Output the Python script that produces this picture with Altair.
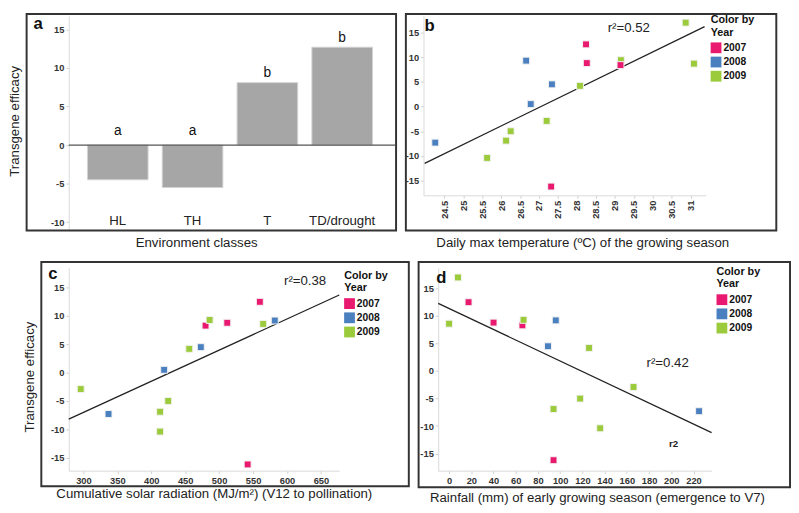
import altair as alt
import pandas as pd

FONT = "Liberation Sans"

# ---------------- data ----------------
env_classes = ["HL", "TH", "T", "TD/drought"]
env_efficacy = [-4.5, -5.5, 8.1, 12.7]
env_letters = ["a", "a", "b", "b"]

years = ["2007", "2008", "2009"]
year_colors = ["#E8196E", "#4A80BF", "#9BCB3B"]

# panel b: daily max temperature
temp_x = [24.26, 25.63, 26.13, 26.25, 26.66, 26.78, 27.20, 27.34, 27.32, 28.08, 28.24, 28.26, 29.16, 29.15, 30.87, 31.09]
temp_y = [-7.3, -10.4, -6.9, -5.0, 9.3, 0.5, -2.9, 4.5, -16.2, 4.2, 12.6, 8.8, 9.4, 8.4, 17.0, 8.7]
temp_year = ["2008", "2009", "2009", "2009", "2008", "2008", "2009", "2008", "2007", "2009", "2007", "2007", "2009", "2007", "2009", "2009"]

# panel c: cumulative solar radiation
rad_x = [296, 337, 413, 413, 425, 419, 456, 473, 480, 486, 512, 560, 565, 582, 542]
rad_y = [-2.9, -7.3, -6.9, -10.4, -5.0, 0.5, 4.2, 4.5, 8.3, 9.3, 8.8, 12.5, 8.6, 9.2, -16.2]
rad_year = ["2009", "2008", "2009", "2009", "2009", "2008", "2009", "2008", "2007", "2009", "2007", "2007", "2009", "2008", "2007"]

# panel d: rainfall
rain_x = [8, 17.5, 0, 40, 66, 67, 96, 89, 126, 166, 118, 94, 136, 225, 94]
rain_y = [17.0, 12.5, 8.6, 8.8, 8.3, 9.3, 9.2, 4.5, 4.2, -2.9, -5.0, -6.9, -10.4, -7.3, -16.2]
rain_year = ["2009", "2007", "2009", "2007", "2007", "2009", "2008", "2008", "2009", "2009", "2009", "2009", "2009", "2008", "2007"]

# fitted regression lines (end points)
fit_temp_x = [23.98, 31.37]
fit_temp_y = [-11.5, 16.2]
fit_rad_x = [278.4, 677.0]
fit_rad_y = [-8.2, 13.7]
fit_rain_x = [-9.8, 236.3]
fit_rain_y = [12.3, -11.2]

r2_text = ["r\u00b2=0.52", "r\u00b2=0.38", "r\u00b2=0.42"]

# ---------------- layout constants ----------------
W_A, W_B, W_C, W_D = 329, 288, 276, 279
H_A, H_B, H_C, H_D = 218, 183, 207, 207

one = pd.DataFrame({"k": [0]})
color_scale = alt.Scale(domain=years, range=year_colors)
YVALS = [-15, -10, -5, 0, 5, 10, 15]


def box(left, right, top, bottom):
    return alt.Chart(one).mark_rect(fillOpacity=0, stroke="#333333", strokeWidth=2).encode(
        x=alt.value(left), x2=alt.value(right), y=alt.value(top), y2=alt.value(bottom)
    )


def panel_letter(t, px, py):
    return alt.Chart(one).mark_text(
        text=t, fontSize=17, fontWeight="bold", align="left", baseline="alphabetic",
        color="#111111", font=FONT
    ).encode(x=alt.value(px), y=alt.value(py))


# ---------------- panel a ----------------
df_env = pd.DataFrame({"cls": env_classes, "val": env_efficacy, "letter": env_letters})
xa = alt.X("cls:N", sort=env_classes,
           scale=alt.Scale(paddingInner=0.19, paddingOuter=0.25),
           axis=alt.Axis(labels=False, ticks=False, domain=False, title="Environment classes",
                         titleX=130, titleY=17.5, titleBaseline="alphabetic"))
ya_scale = alt.Scale(domain=[-10.96, 16.75], nice=False, zero=False)
ya_axis = alt.Axis(values=[-10, -5, 0, 5, 10, 15], title="Transgene efficacy",
                   titleX=-48, titleY=107, titleBaseline="bottom")

bars = alt.Chart(df_env).mark_bar(color="#A6A6A6", stroke="#D2D2D2", strokeWidth=1).encode(
    x=xa, y=alt.Y("val:Q", scale=ya_scale, axis=ya_axis), y2=alt.datum(0)
)
zero_rule = alt.Chart(one).mark_rule(color="#555555", strokeWidth=1.2).encode(
    x=alt.value(0), x2=alt.value(W_A + 4), y=alt.datum(0)
)
sig_letters = alt.Chart(df_env).transform_calculate(
    ly="datum.val > 0 ? datum.val + 0.7 : 1.35"
).mark_text(fontSize=14, baseline="alphabetic", color="#111111", font=FONT).encode(
    x=xa, y=alt.Y("ly:Q", scale=ya_scale, axis=ya_axis), text="letter:N"
)
cat_labels = alt.Chart(df_env).mark_text(fontSize=13.5, baseline="alphabetic", color="#222222", font=FONT).encode(
    x=xa, y=alt.datum(-10.3), text="cls:N"
)
panel_a = alt.layer(
    box(-43, W_A + 5, -2, H_A + 1), bars, zero_rule, sig_letters, cat_labels, panel_letter("a", -36, 13)
).properties(width=W_A, height=H_A)


# ---------------- scatter panels ----------------
def scatter(xs, ys, yrs, fx, fy, xdom, ydom, xvals, xfmt, xangle, xtitle, title_x, title_y,
            W, H, letter, lx, ly, bx, legend_y, r2, r2x, r2y, ytitle=None, ytx=0, yty=0, extra=None):
    df = pd.DataFrame({"x": xs, "y": ys, "year": yrs})
    fit = pd.DataFrame({"x": fx, "y": fy})
    xscale = alt.Scale(domain=xdom, nice=False, zero=False)
    yscale = alt.Scale(domain=ydom, nice=False, zero=False)
    xaxis_kw = dict(values=xvals, format=xfmt, title=xtitle, titleX=title_x, titleY=title_y,
                    titleBaseline="alphabetic")
    if xangle:
        xaxis_kw["labelAngle"] = xangle
    xaxis = alt.Axis(**xaxis_kw)
    if ytitle:
        yaxis = alt.Axis(values=YVALS, title=ytitle, titleX=ytx, titleY=yty, titleBaseline="bottom")
    else:
        yaxis = alt.Axis(values=YVALS, title=None)
    X = alt.X("x:Q", scale=xscale, axis=xaxis)
    Y = alt.Y("y:Q", scale=yscale, axis=yaxis)
    line = alt.Chart(fit).mark_line(color="#222222", strokeWidth=1.3).encode(x=X, y=Y)
    pts = alt.Chart(df).mark_square(size=50, opacity=1, stroke="#F2F2F2", strokeWidth=1).encode(
        x=X, y=Y,
        color=alt.Color("year:N", scale=color_scale,
                        legend=alt.Legend(orient="none", legendX=W + 5, legendY=legend_y,
                                          title=["Color by", "Year"]))
    )
    r2df = pd.DataFrame({"x": [r2x], "y": [r2y], "t": [r2]})
    r2t = alt.Chart(r2df).mark_text(fontSize=13.5, color="#222222", font=FONT).encode(x=X, y=Y, text="t:N")
    layers = [box(*bx), line, pts, r2t]
    if extra is not None:
        edf = pd.DataFrame({"x": [extra[0]], "y": [extra[1]], "t": [extra[2]]})
        layers.append(alt.Chart(edf).mark_text(fontSize=10, fontWeight="bold", color="#222222", font=FONT)
                      .encode(x=X, y=Y, text="t:N"))
    layers.append(panel_letter(letter, lx, ly))
    return alt.layer(*layers).properties(width=W, height=H)


panel_b = scatter(
    temp_x, temp_y, temp_year, fit_temp_x, fit_temp_y,
    [23.95, 31.4], [-17.97, 18.35],
    [24.5, 25, 25.5, 26, 26.5, 27, 27.5, 28, 28.5, 29, 29.5, 30, 30.5, 31], ".1~f", 270,
    "Daily max temperature (\u00baC) of the growing season", 162, 52.5,
    W_B, H_B, "b", 1, 15, (-18, W_B + 72, -2, H_B + 36), -2, r2_text[0], 29.37, 15.9,
)

panel_c = scatter(
    rad_x, rad_y, rad_year, fit_rad_x, fit_rad_y,
    [278.4, 677.0], [-17.3, 18.5],
    [300, 350, 400, 450, 500, 550, 600, 650], "d", 0,
    "Cumulative solar radiation (MJ/m\u00b2) (V12 to pollination)", 148, 27,
    W_C, H_C, "c", -21, 11, (-28, W_C + 71, -6, H_C + 16), 2, r2_text[1], 626.7, 16.2,
    ytitle="Transgene efficacy", ytx=-33, yty=111,
)

panel_d = scatter(
    rain_x, rain_y, rain_year, fit_rain_x, fit_rain_y,
    [-9.8, 236.3], [-18.1, 18.75],
    [0, 20, 40, 60, 80, 100, 120, 140, 160, 180, 200, 220], "d", 0,
    "Rainfall (mm) of early growing season (emergence to V7)", 162, 31.7,
    W_D, H_D, "d", -2, 15, (-20, W_D + 80, -6, H_D + 17), -2, r2_text[2], 196.7, 1.45,
    extra=(202, -13.2, "r2"),
)

row1 = alt.hconcat(panel_a, panel_b, spacing=8).resolve_scale(color="independent")
row2 = alt.hconcat(panel_c, panel_d, spacing=8).resolve_scale(color="independent")

chart = alt.vconcat(row1, row2, spacing=12).resolve_scale(color="independent").properties(
    padding=0
).configure(font=FONT).configure_view(strokeWidth=0).configure_axis(
    labelFont=FONT, labelFontSize=9.5, labelFontWeight="bold", labelColor="#333333",
    labelExpr="'' + datum.value",
    domainColor="#D9D9D9", tickColor="#D0D0D0", tickSize=3, labelPadding=2, grid=False,
    titleFont=FONT, titleFontSize=13.5, titleFontWeight="normal", titleColor="#222222",
).configure_legend(
    titleFont=FONT, titleFontSize=11, titleFontWeight="bold", titleColor="#111111",
    titleLineHeight=13, titlePadding=5,
    labelFont=FONT, labelFontSize=10.5, labelFontWeight="bold", labelColor="#111111",
    symbolType="square", symbolSize=121, symbolStrokeWidth=0, symbolOpacity=1,
    rowPadding=3.5, labelOffset=2, padding=0,
)

chart.save("out.html", embed_options={"renderer": "svg", "actions": False})
